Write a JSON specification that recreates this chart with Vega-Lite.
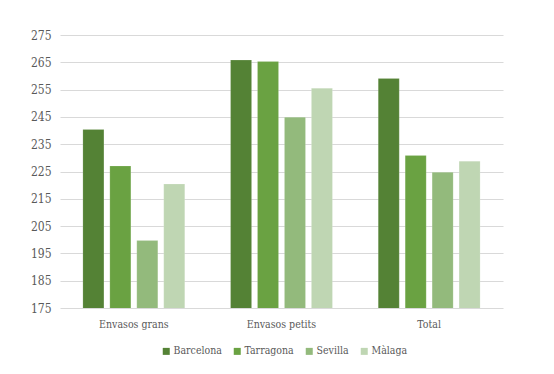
{
  "$schema": "https://vega.github.io/schema/vega-lite/v6.json",
  "autosize": "none",
  "width": 443,
  "height": 273,
  "padding": {"left": 60, "top": 35, "right": 51, "bottom": 66},
  "background": "white",
  "config": {
    "view": {"stroke": null},
    "font": "DejaVu Serif Condensed, Liberation Serif, serif",
    "axis": {"labelFont": "DejaVu Serif Condensed, Liberation Serif, serif", "labelColor": "#595959", "labelFontSize": 12},
    "legend": {"labelFont": "DejaVu Serif Condensed, Liberation Serif, serif"}
  },
  "data": {
    "values": [
      {"cat": "Envasos grans", "city": "Barcelona", "v": 240.4},
      {"cat": "Envasos grans", "city": "Tarragona", "v": 227.0},
      {"cat": "Envasos grans", "city": "Sevilla", "v": 199.7},
      {"cat": "Envasos grans", "city": "Màlaga", "v": 220.4},
      {"cat": "Envasos petits", "city": "Barcelona", "v": 265.8},
      {"cat": "Envasos petits", "city": "Tarragona", "v": 265.3},
      {"cat": "Envasos petits", "city": "Sevilla", "v": 244.9},
      {"cat": "Envasos petits", "city": "Màlaga", "v": 255.5},
      {"cat": "Total", "city": "Barcelona", "v": 259.1},
      {"cat": "Total", "city": "Tarragona", "v": 230.9},
      {"cat": "Total", "city": "Sevilla", "v": 224.7},
      {"cat": "Total", "city": "Màlaga", "v": 228.8}
    ]
  },
  "mark": {"type": "bar", "clip": true, "stroke": "#ffffff", "strokeOpacity": 0.3, "strokeWidth": 0.5},
  "encoding": {
    "x": {
      "field": "cat", "type": "nominal", "sort": null, "title": null,
      "scale": {"paddingInner": 0.27, "paddingOuter": 0.135},
      "axis": {"labelAngle": 0, "ticks": false, "domain": false, "labelPadding": 11, "labelFontSize": 10.5}
    },
    "xOffset": {
      "field": "city", "type": "nominal",
      "sort": ["Barcelona", "Tarragona", "Sevilla", "Màlaga"],
      "scale": {"paddingInner": 0.22, "paddingOuter": 0.11}
    },
    "y": {
      "field": "v", "type": "quantitative", "title": null,
      "scale": {"domain": [175, 275], "nice": false, "zero": false},
      "axis": {
        "values": [175, 185, 195, 205, 215, 225, 235, 245, 255, 265, 275],
        "ticks": false, "domain": false, "labelPadding": 9,
        "gridColor": "#d9d9d9", "gridWidth": 1
      }
    },
    "color": {
      "field": "city", "type": "nominal", "title": null,
      "sort": ["Barcelona", "Tarragona", "Sevilla", "Màlaga"],
      "scale": {
        "domain": ["Barcelona", "Tarragona", "Sevilla", "Màlaga"],
        "range": ["#548235", "#6AA242", "#93BA7C", "#BFD6B3"]
      },
      "legend": {
        "orient": "none", "direction": "horizontal",
        "legendX": 101, "legendY": 311,
        "symbolType": "square", "symbolSize": 49, "symbolStrokeWidth": 0,
        "symbolOpacity": 1,
        "labelFont": "DejaVu Serif Condensed, Liberation Serif, serif", "labelFontSize": 10.5, "labelColor": "#595959",
        "labelOffset": 2, "columnPadding": 10
      }
    }
  }
}
